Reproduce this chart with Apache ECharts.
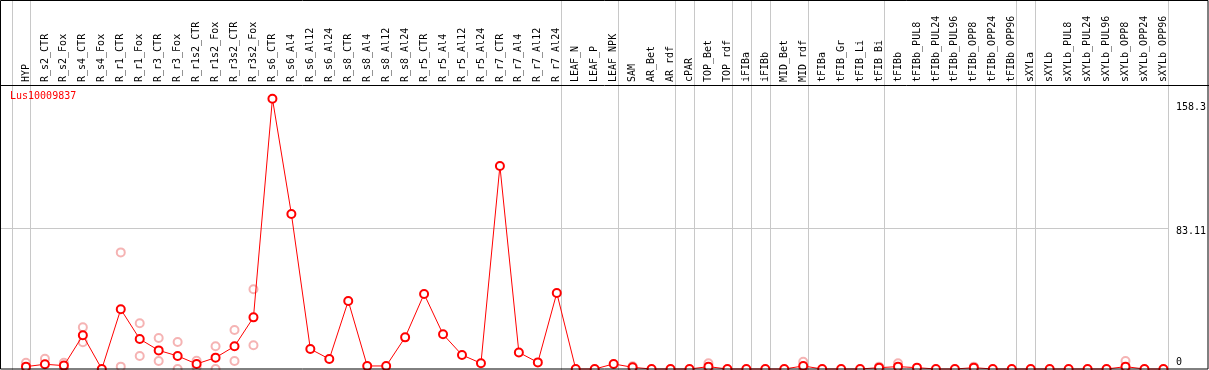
<!DOCTYPE html>
<html>
<head>
<meta charset="utf-8">
<script src="https://cdn.jsdelivr.net/npm/echarts@6/dist/echarts.min.js"></script>
<style>
  html, body { margin: 0; padding: 0; background: #fff; }
  #chart { width: 1209px; height: 370px; }
</style>
</head>
<body>
<div id="chart"></div>
<script>
// 样本名称
const categories = [
  'HYP', 'R_s2_CTR', 'R_s2_Fox', 'R_s4_CTR', 'R_s4_Fox', 'R_r1_CTR', 'R_r1_Fox', 'R_r3_CTR', 'R_r3_Fox',
  'R_r1s2_CTR', 'R_r1s2_Fox', 'R_r3s2_CTR', 'R_r3s2_Fox', 'R_s6_CTR', 'R_s6_Al4', 'R_s6_Al12', 'R_s6_Al24',
  'R_s8_CTR', 'R_s8_Al4', 'R_s8_Al12', 'R_s8_Al24', 'R_r5_CTR', 'R_r5_Al4', 'R_r5_Al12', 'R_r5_Al24',
  'R_r7_CTR', 'R_r7_Al4', 'R_r7_Al12', 'R_r7_Al24', 'LEAF_N', 'LEAF_P', 'LEAF_NPK', 'SAM', 'AR_Bet', 'AR_rdf',
  'cPAR', 'TOP_Bet', 'TOP_rdf', 'iFIBa', 'iFIBb', 'MID_Bet', 'MID_rdf', 'tFIBa', 'tFIB_Gr', 'tFIB_Li', 'tFIB_Bi',
  'tFIBb', 'tFIBb_PUL8', 'tFIBb_PUL24', 'tFIBb_PUL96', 'tFIBb_OPP8', 'tFIBb_OPP24', 'tFIBb_OPP96', 'sXYLa',
  'sXYLb', 'sXYLb_PUL8', 'sXYLb_PUL24', 'sXYLb_PUL96', 'sXYLb_OPP8', 'sXYLb_OPP24', 'sXYLb_OPP96'
]
// 平均值
const meanValues = [
  1.4, 2.8, 2.0, 19.9, 0, 35.3, 17.7, 11.0, 7.7, 3.0, 6.7, 13.4, 30.5,
  159.7, 91.6, 11.8, 5.9, 40.2, 1.8, 1.8, 18.7, 44.3, 20.5, 8.3, 3.4, 119.9, 9.8, 3.9, 44.9,
  0, 0, 3.0, 1.0, 0, 0, 0, 1.4, 0, 0, 0, 0, 1.8, 0, 0, 0, 0.8, 1.4, 0.8, 0, 0, 0.8, 0, 0,
  0, 0, 0, 0, 0, 1.4, 0, 0
]
// 重复样本 (浅色圆圈)
const repA = [
  3.7, 6.1, 3.7, 24.6, null, 68.9, 27.0, 18.3, 15.9, 4.9, 13.4, 23.0, 47.1,
  null, null, null, null, null, null, null, null, null, null, null, null, null, null, null, null,
  null, null, null, 1.6, null, null, null, 3.4, null, null, null, null, 4.3, null, null, null, 1.4, 3.4, null, null, null, 1.4, null, null,
  null, null, null, null, null, 4.7, null, null
]
const repB = [
  0.2, null, 0.3, 15.8, null, 1.4, 7.7, 4.7, 0, 1.1, 0, 4.7, 14.0,
  null, null, null, null, null, null, null, null, null, null, null, null, null, null, null, null,
  null, null, null, 0.4, null, null, null, 0, null, null, null, null, 0, null, null, null, null, null, null, null, null, null, null, null,
  null, null, null, null, null, 0, null, null
]
// 分组边界
const groupEnds = ['HYP', 'R_r7_Al24', 'LEAF_NPK', 'AR_rdf', 'cPAR', 'TOP_rdf', 'iFIBa', 'iFIBb',
  'MID_rdf', 'tFIB_Bi', 'tFIBb_OPP96', 'sXYLa', 'sXYLb_OPP96']
const yTicks = [0, 83.11, 158.3]
const yTickText = ['0', '83.11', '158.3']
const geneName = 'Lus10009837'

const FONT = 'DejaVu Sans Mono'
const RED = '#ff0000'
const PINK = '#f2a0a0'
const GREY = '#c8c8c8'

const toPairs = arr => arr.map((v, i) => (v === null ? null : [i, v])).filter(d => d)

let myChart = echarts.init(document.getElementById('chart'))
let option = {
  animation: false,
  title: {
    text: geneName,
    left: 10,
    top: 91,
    padding: 0,
    textStyle: { color: RED, fontSize: 10, fontWeight: 'normal', fontFamily: FONT }
  },
  grid: { left: 16.5, right: 33.5, top: 0, bottom: 1 },
  xAxis: {
    type: 'category',
    data: categories,
    position: 'top',
    offset: -85,
    axisLine: { show: false },
    axisTick: { show: false },
    splitLine: { show: false },
    axisLabel: {
      interval: 0,
      rotate: 90,
      margin: 3,
      fontSize: 10,
      fontFamily: FONT,
      color: '#000'
    }
  },
  yAxis: {
    type: 'value',
    position: 'right',
    min: 0,
    max: 218,
    axisLine: { show: false },
    axisTick: { show: false },
    splitLine: { show: false },
    axisLabel: {
      customValues: yTicks,
      margin: 3,
      fontSize: 10,
      fontFamily: FONT,
      color: '#000',
      formatter: value => {
        let idx = yTicks.indexOf(value)
        let txt = idx >= 0 ? yTickText[idx] : String(value)
        if (idx === 0) return '{b|' + txt + '}'
        if (idx === 1) return '{m|' + txt + '}'
        return '{t|' + txt + '}'
      },
      rich: {
        b: { padding: [0, 0, 14, 0], fontSize: 10, fontFamily: FONT },
        m: { padding: [7, 0, 0, 0], fontSize: 10, fontFamily: FONT },
        t: { padding: [12, 0, 0, 0], fontSize: 10, fontFamily: FONT }
      }
    }
  },
  series: [
    {
      name: 'repA',
      type: 'scatter',
      data: toPairs(repA),
      symbol: 'emptyCircle',
      symbolSize: 8,
      clip: false,
      z: 2,
      itemStyle: { color: PINK, borderColor: PINK, borderWidth: 1.3 }
    },
    {
      name: 'repB',
      type: 'scatter',
      data: toPairs(repB),
      symbol: 'emptyCircle',
      symbolSize: 8,
      clip: false,
      z: 2,
      itemStyle: { color: PINK, borderColor: PINK, borderWidth: 1.3 }
    },
    {
      name: geneName,
      type: 'line',
      data: meanValues,
      symbol: 'emptyCircle',
      symbolSize: 8,
      showAllSymbol: true,
      clip: false,
      z: 3,
      lineStyle: { color: RED, width: 1 },
      itemStyle: { color: RED, borderColor: RED, borderWidth: 1.3 }
    }
  ]
}
myChart.setOption(option, true)

// 分组竖线、83.11 横线以及外框
let x0 = myChart.convertToPixel({ xAxisIndex: 0 }, 0)
let x1 = myChart.convertToPixel({ xAxisIndex: 0 }, 1)
let step = x1 - x0
let shift = step * 0.237
let lineXs = [x0 - step + shift]
groupEnds.forEach(name => {
  let idx = categories.indexOf(name)
  lineXs.push(myChart.convertToPixel({ xAxisIndex: 0 }, idx) + shift)
})
let lastX = lineXs[lineXs.length - 1]
let yMid = myChart.convertToPixel({ yAxisIndex: 0 }, yTicks[1])

let graphics = lineXs.map(x => ({
  type: 'line',
  z: 1,
  silent: true,
  shape: { x1: Math.round(x) + 0.5, y1: 0, x2: Math.round(x) + 0.5, y2: 370 },
  style: { stroke: GREY, lineWidth: 1 }
}))
graphics.push({
  type: 'line',
  z: 1,
  silent: true,
  shape: { x1: 0, y1: Math.round(yMid) + 0.5, x2: Math.round(lastX), y2: Math.round(yMid) + 0.5 },
  style: { stroke: GREY, lineWidth: 1 }
})
graphics.push({
  type: 'line',
  z: 10,
  silent: true,
  shape: { x1: 0, y1: 85.5, x2: 1209, y2: 85.5 },
  style: { stroke: '#000', lineWidth: 1 }
})
graphics.push({
  type: 'rect',
  z: 10,
  silent: true,
  shape: { x: 0.5, y: 0.5, width: 1207.5, height: 368.5 },
  style: { stroke: '#000', fill: null, lineWidth: 1 }
})
myChart.setOption({ graphic: graphics })
</script>
</body>
</html>
